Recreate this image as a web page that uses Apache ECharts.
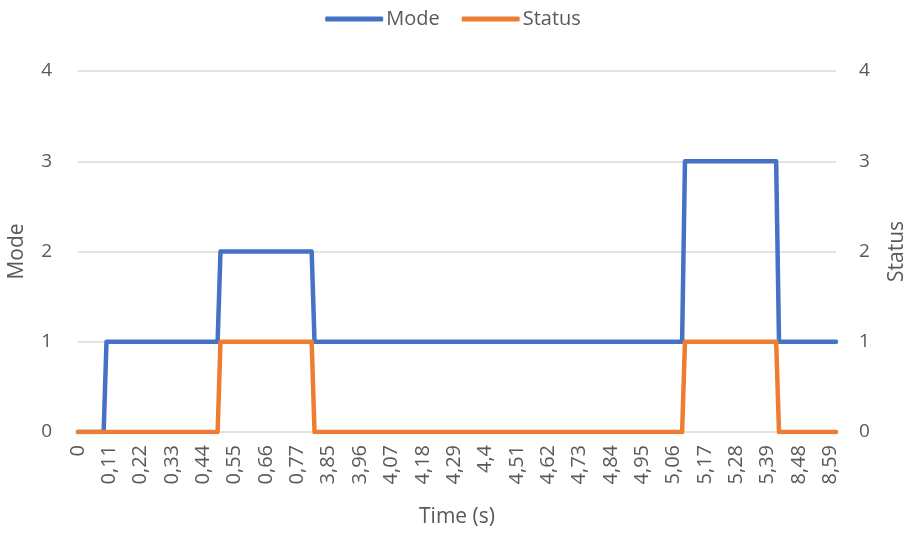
<!DOCTYPE html>
<html><head><meta charset="utf-8">
<script src="https://cdn.jsdelivr.net/npm/echarts@6/dist/echarts.min.js"></script>
<style>html,body{margin:0;padding:0;background:#fff}#c{width:906px;height:535px}</style>
</head><body><div id="c"></div>
<script>
// Tick labels (one every 11 samples along the category axis)
const timeLabels = ['0','0,11','0,22','0,33','0,44','0,55','0,66','0,77','3,85','3,96','4,07','4,18','4,29','4,4','4,51','4,62','4,73','4,84','4,95','5,06','5,17','5,28','5,39','8,48','8,59'];
const samplesPerLabel = 11;
const lastSample = 266;
// Mode: sample index of each corner and its value
const modeIdx = [0, 9, 10, 49, 50, 82, 83, 212, 213, 245, 246, 266];
const modeVal = [0, 0, 1, 1, 2, 2, 1, 1, 3, 3, 1, 1];
// Status: sample index of each corner and its value
const statusIdx = [0, 49, 50, 82, 83, 212, 213, 245, 246, 266];
const statusVal = [0, 0, 1, 1, 0, 0, 1, 1, 0, 0];

const font = '"Open Sans", Lato, sans-serif';
const grey = '#595959';
const chart = echarts.init(document.getElementById('c'));
chart.setOption({
  animation: false,
  legend: {
    top: 4, left: 'center', itemWidth: 58, itemHeight: 5, itemGap: 22,
    icon: 'roundRect',
    textStyle: {fontFamily: font, fontSize: 20, color: grey, padding: [0,0,0,-2]},
    data: ['Mode', 'Status']
  },
  grid: {left: 78, right: 70, top: 71, bottom: 103, containLabel: false, outerBoundsMode: 'none'},
  xAxis: {
    type: 'value', min: 0, max: lastSample, interval: samplesPerLabel,
    name: 'Time (s)', nameLocation: 'middle', nameGap: 75,
    nameTextStyle: {fontFamily: font, fontSize: 21, color: grey},
    axisLine: {show: false}, axisTick: {show: false}, splitLine: {show: false},
    axisLabel: {
      rotate: 90, margin: 13, fontFamily: font, fontSize: 20, color: grey,
      showMaxLabel: false,
      formatter: v => (v % samplesPerLabel === 0 ? (timeLabels[v / samplesPerLabel] || '') : '')
    }
  },
  yAxis: [
    {type: 'value', min: 0, max: 4, interval: 1, name: 'Mode', nameLocation: 'middle', nameGap: 50,
     nameTextStyle: {fontFamily: font, fontSize: 21, color: grey},
     axisLine: {show: false}, axisTick: {show: false},
     axisLabel: {fontFamily: font, fontSize: 19, color: grey, margin: 26},
     splitLine: {lineStyle: {color: '#d9d9d9', width: 1.5}}},
    {type: 'value', min: 0, max: 4, interval: 1, name: 'Status', nameLocation: 'middle', nameGap: 51,
     nameRotate: 90,
     nameTextStyle: {fontFamily: font, fontSize: 21, color: grey},
     axisLine: {show: false}, axisTick: {show: false},
     axisLabel: {fontFamily: font, fontSize: 19, color: grey, margin: 23},
     splitLine: {show: false}}
  ],
  series: [
    {name: 'Mode', type: 'line', yAxisIndex: 0, showSymbol: false, symbol: 'none',
     color: '#4472C4', lineStyle: {width: 4.5, cap: 'round', join: 'round'},
     data: modeIdx.map((k, i) => [k, modeVal[i]])},
    {name: 'Status', type: 'line', yAxisIndex: 1, showSymbol: false, symbol: 'none',
     color: '#ED7D31', lineStyle: {width: 4.5, cap: 'round', join: 'round'},
     data: statusIdx.map((k, i) => [k, statusVal[i]])}
  ]
});
</script></body></html>
